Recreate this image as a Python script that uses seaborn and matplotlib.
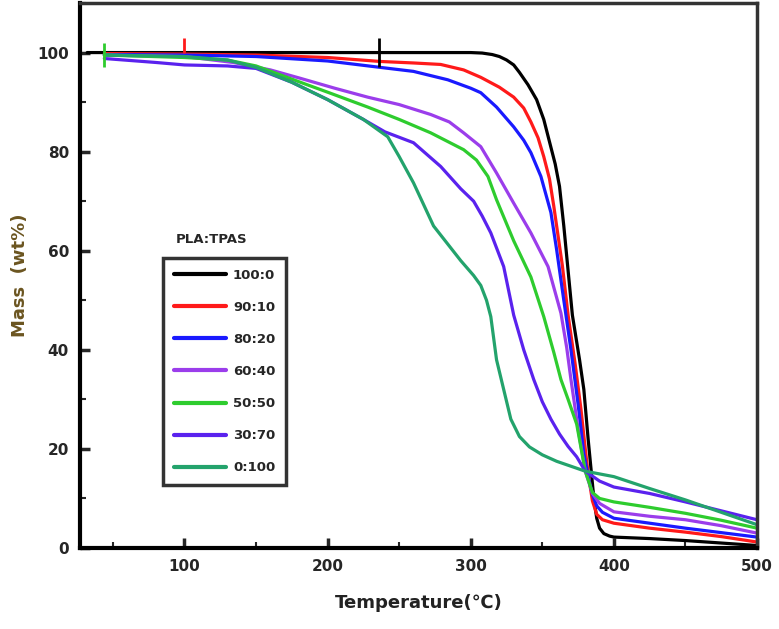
import numpy as np
import seaborn as sns
import pandas as pd
from matplotlib import pyplot as plt
from matplotlib.ticker import MultipleLocator

# PLA:TPAS ratios and TGA curves (temperature in C, mass in wt%)
ratios = ['100:0', '90:10', '80:20', '60:40', '50:50', '30:70', '0:100']
colors = ['#000000', '#FF1A1A', '#1A1AFF', '#9B3DEB', '#2ECC2E', '#5A22EE', '#23A36C']

t_100_0 = [32, 60, 100, 150, 200, 250, 300, 308, 315, 320, 325, 330, 334, 340, 346, 351, 355, 359, 362,
           365, 368, 371, 376, 379, 382, 384, 386, 388, 390, 393, 397, 400, 425, 450, 475, 500]
m_100_0 = [100, 100, 100, 100, 100, 100, 100, 99.9, 99.6, 99.2, 98.5, 97.5, 96, 93.5, 90.5, 86.5, 82, 77.5, 73,
           65, 56, 47, 38, 32, 22, 16, 10, 6, 4, 2.9, 2.4, 2.2, 1.9, 1.5, 1.0, 0.5]

t_90_10 = [44, 100, 150, 200, 237, 260, 279, 295, 307, 320, 330, 337, 342, 347, 351, 355, 358, 364, 368,
           373, 377, 380, 382, 385, 388, 392, 400, 425, 450, 475, 500]
m_90_10 = [99.8, 99.7, 99.5, 99, 98.2, 97.9, 97.6, 96.5, 95, 93, 91, 88.8, 86, 82.8, 79, 74.5, 69, 57, 47,
           37, 28, 20, 15, 9.5, 6.8, 5.7, 5, 4, 3.2, 2.3, 1.2]

t_80_20 = [44, 100, 150, 200, 237, 260, 284, 300, 307, 318, 330, 337, 342, 349, 356, 360, 365, 370, 375,
           379, 382, 385, 388, 392, 400, 425, 450, 475, 500]
m_80_20 = [99.6, 99.5, 99.2, 98.3, 97, 96.2, 94.5, 92.8, 91.9, 89, 85, 82.3, 79.8, 75, 67.7, 60.2, 50, 40, 29,
           19, 14.5, 10.8, 8.5, 7.2, 6, 5, 4, 3.1, 2.2]

t_60_40 = [44, 100, 134, 160, 181, 205, 228, 250, 272, 285, 295, 307, 318, 330, 342, 354, 363, 367, 370,
           375, 380, 385, 390, 400, 425, 450, 475, 500]
m_60_40 = [99.5, 99.2, 98, 96.5, 94.8, 92.8, 91, 89.5, 87.5, 86, 83.8, 81, 75.7, 69.6, 63.6, 56.8, 47.4, 40.5, 34,
           24, 15.5, 11, 9, 7.3, 6.4, 5.7, 4.5, 3]

t_50_50 = [44, 100, 130, 150, 181, 200, 228, 250, 272, 295, 304, 312, 318, 330, 342, 351, 358, 363, 368,
           374, 380, 385, 390, 400, 425, 450, 475, 500]
m_50_50 = [99.5, 99, 98.5, 97.3, 94, 92, 89, 86.5, 83.8, 80.4, 78.3, 75, 70.3, 62, 54.7, 46.7, 39.5, 34, 30,
           25, 15.5, 11.2, 10, 9.3, 8.2, 7, 5.6, 4]

t_30_70 = [44, 80, 100, 130, 150, 175, 200, 225, 240, 260, 279, 293, 302, 308, 314, 323, 330, 337, 344, 350,
           356, 362, 368, 374, 380, 390, 400, 425, 450, 475, 500]
m_30_70 = [98.8, 98, 97.5, 97.3, 96.8, 94, 90.5, 86.5, 84, 81.8, 77, 72.5, 70, 67, 63.6, 56.8, 47, 40, 34, 29.5,
           26, 23, 20.5, 18.4, 15.5, 13.5, 12.3, 11, 9.3, 7.5, 5.7]

t_0_100 = [44, 100, 130, 150, 175, 200, 225, 242, 250, 260, 274, 293, 302, 307, 311, 314, 318, 323, 328,
           334, 341, 350, 360, 380, 400, 425, 450, 475, 500]
m_0_100 = [99.5, 99.2, 98.5, 97, 94, 90.5, 86.5, 83, 79, 73.7, 65, 58, 55, 53, 50, 46.7, 38, 32, 26,
           22.5, 20.4, 18.8, 17.5, 15.5, 14.4, 12, 9.7, 7.2, 4.7]

temps = [t_100_0, t_90_10, t_80_20, t_60_40, t_50_50, t_30_70, t_0_100]
masses = [m_100_0, m_90_10, m_80_20, m_60_40, m_50_50, m_30_70, m_0_100]

# onset markers drawn on the curves
onset_temps = [44, 100, 236]
onset_low = [97, 100, 97]
onset_high = [102, 103, 103]
onset_colors = ['#2ECC2E', '#FF1A1A', '#000000']

frames = []
for r, t, m in zip(ratios, temps, masses):
    frames.append(pd.DataFrame({'Temperature': t, 'Mass': m, 'PLA:TPAS': r}))
df = pd.concat(frames, ignore_index=True)

sns.set_style("ticks")
plt.rcParams['font.family'] = ['DejaVu Sans']

fig = plt.figure(figsize=(7.79, 6.29), dpi=100)
ax = fig.add_axes([0.1027, 0.1288, 0.8691, 0.8664])

sns.lineplot(data=df, x='Temperature', y='Mass', hue='PLA:TPAS', hue_order=ratios,
             palette=colors, estimator=None, sort=False, linewidth=2.3, ax=ax)

ax.vlines(onset_temps, onset_low, onset_high, colors=onset_colors, linewidth=2)

ax.set_xlim(27, 500)
ax.set_ylim(0, 110)
ax.xaxis.set_major_locator(MultipleLocator(100))
ax.xaxis.set_minor_locator(MultipleLocator(50))
ax.yaxis.set_major_locator(MultipleLocator(20))
ax.yaxis.set_minor_locator(MultipleLocator(10))
ax.set_yticks([0, 20, 40, 60, 80, 100])
ax.tick_params(which='major', direction='in', length=7, width=2.5, labelsize=11, pad=8)
ax.tick_params(which='minor', direction='in', length=4, width=1.5)
for lab in ax.get_xticklabels() + ax.get_yticklabels():
    lab.set_fontweight('bold')

for side in ['left', 'bottom']:
    ax.spines[side].set_linewidth(3)
    ax.spines[side].set_color('black')
for side in ['top', 'right']:
    ax.spines[side].set_linewidth(2.5)
    ax.spines[side].set_color('#333333')

ax.set_xlabel('Temperature(\u2103)', fontsize=13, fontweight='bold', color='#222222', labelpad=14)
ax.set_ylabel('Mass  (wt%)', fontsize=13, fontweight='bold', color='#6b5520', labelpad=6)

handles, labels = ax.get_legend_handles_labels()
leg = ax.legend(handles, labels, loc='upper left', bbox_to_anchor=(0.1226, 0.532),
                borderaxespad=0, frameon=True, fancybox=False, handlelength=4.0,
                handletextpad=0.5, labelspacing=1.45, borderpad=0.8,
                prop={'weight': 'bold', 'size': 9.5})
leg.get_frame().set_edgecolor('black')
leg.get_frame().set_linewidth(2.5)
for line in leg.get_lines():
    line.set_linewidth(3)
ax.text(0.195, 0.555, 'PLA:TPAS', transform=ax.transAxes, ha='center', va='bottom',
        fontsize=9.5, fontweight='bold')

fig.savefig('out.png', dpi=100)
